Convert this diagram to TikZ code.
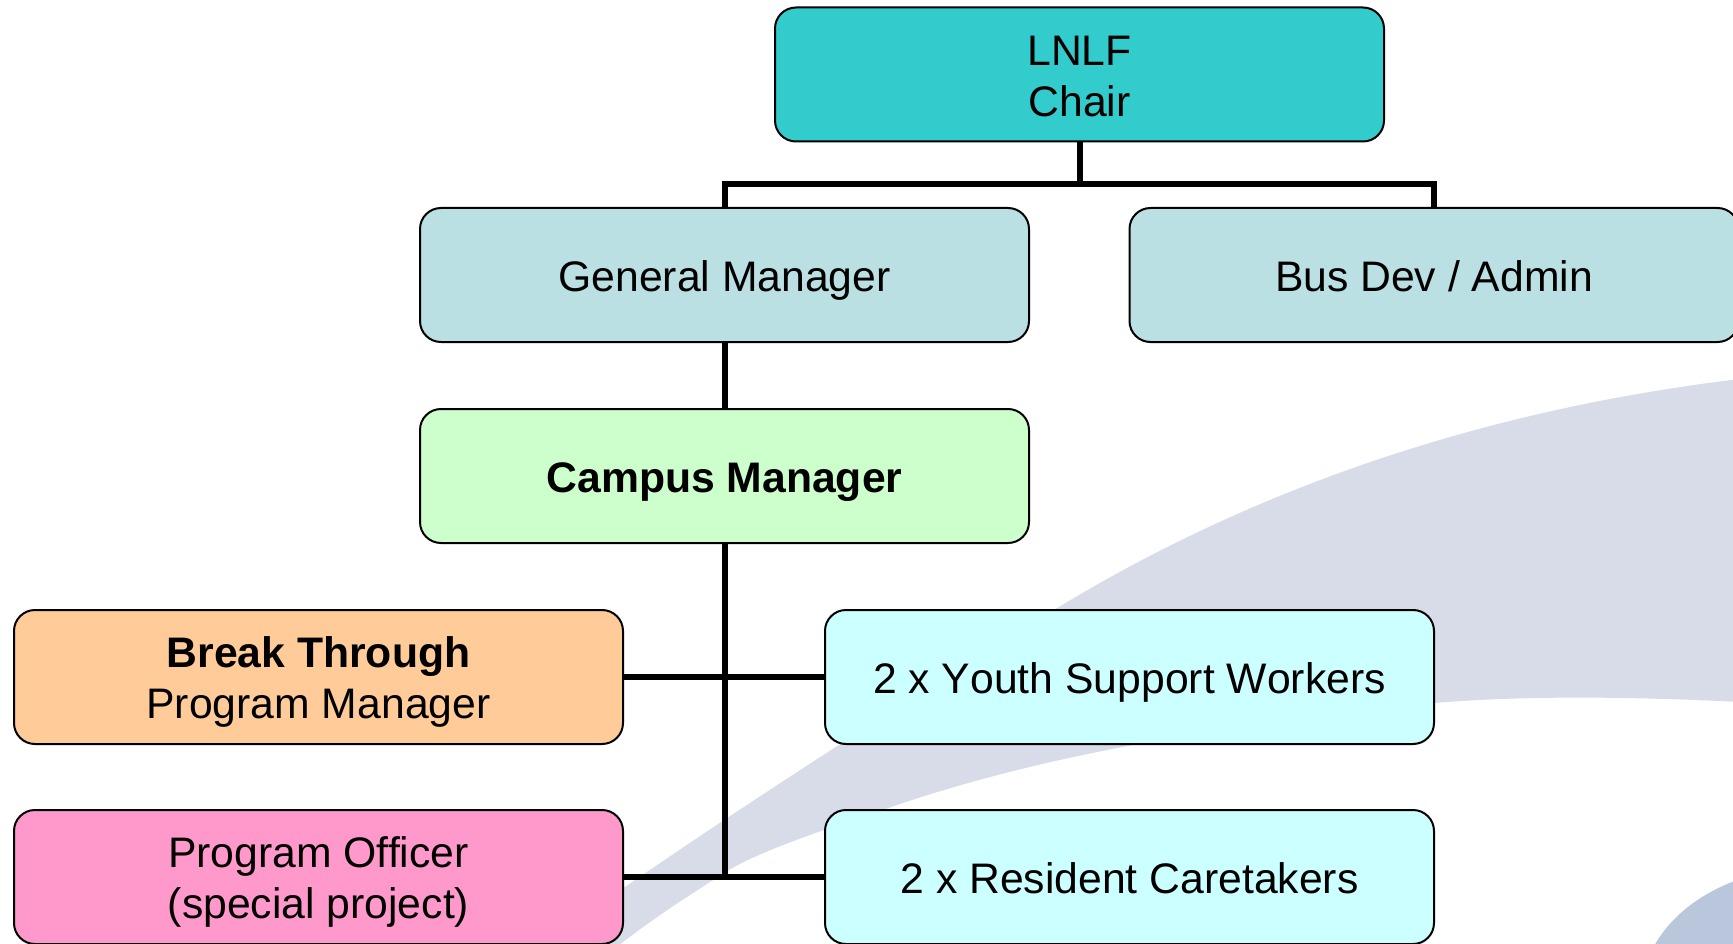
\documentclass[tikz,border=0pt]{standalone}
\usepackage{fontspec}
\setmainfont{Liberation Sans}
\definecolor{swooshA}{HTML}{D8DCE8}
\definecolor{swooshB}{HTML}{B9C6DC}
\definecolor{chairC}{HTML}{33CCCC}
\definecolor{mgrC}{HTML}{BBE0E3}
\definecolor{campusC}{HTML}{CCFFCC}
\definecolor{breakC}{HTML}{FFCC99}
\definecolor{officerC}{HTML}{FF99CC}
\definecolor{staffC}{HTML}{CCFFFF}
\newcommand{\ltop}{\rule{0pt}{44pt}}
\newcommand{\lbot}{\rule[-11.4pt]{0pt}{11.4pt}}
\begin{document}
\begin{tikzpicture}[x=1pt,y=-1pt,
  orgbox/.style={draw=black,line width=2pt,rounded corners=21pt,minimum width=609pt,minimum height=134pt,inner sep=0pt,align=center,
    font=\fontsize{42.7pt}{51pt}\selectfont,text=black},
  link/.style={draw=black,line width=6pt,line join=miter}]
\useasboundingbox (0,0) rectangle (1733,944);
\fill[white] (0,0) rectangle (1733,944);
\fill[swooshA] (1740,379) .. controls (1480,410) and (1250,490) .. (1054,610)
  .. controls (900,704) and (720,820) .. (570,925) -- (570,950) -- (613,950)
  .. controls (650,920) and (690,895) .. (724,873)
  .. controls (760,850) and (830,828) .. (900,804)
  .. controls (1060,750) and (1250,722) .. (1434,703)
  .. controls (1530,695) and (1640,697) .. (1740,702) -- cycle;
\fill[swooshB] (1652,950) .. controls (1668,918) and (1700,893) .. (1740,879) -- (1740,950) -- cycle;
\node[orgbox,fill=chairC] (chair) at (1079.5,74.5) {\ltop LNLF\\Chair\lbot};
\node[orgbox,fill=mgrC] (gm) at (724.5,275) {\ltop\lbot General Manager};
\node[orgbox,fill=mgrC] (bus) at (1434,275) {\ltop\lbot Bus Dev / Admin};
\node[orgbox,fill=campusC] (campus) at (724.5,476) {\ltop\lbot\bfseries Campus Manager};
\node[orgbox,fill=breakC] (bt) at (318.5,677) {\ltop\bfseries Break Through\\Program Manager\lbot};
\node[orgbox,fill=officerC] (po) at (318.5,877) {\ltop Program Officer\\(special project)\lbot};
\node[orgbox,fill=staffC] (ys) at (1129.5,677) {\ltop\lbot\addfontfeatures{Kerning=Off}2 x Youth Support Workers};
\node[orgbox,fill=staffC] (rc) at (1129.5,877) {\ltop\lbot 2 x Resident Caretakers};
\coordinate (bar) at (1079.5,184);
\draw[link] (gm.north) -- (gm.north |- bar) -- (bus.north |- bar) -- (bus.north);
\draw[link] (chair.south) -- (chair.south |- bar);
\draw[link] (gm.south) -- (campus.north);
\draw[link] (campus.south) -- (campus.south |- po.east);
\draw[link] (bt.east) -- (ys.west);
\draw[link] (po.east) -- (rc.west);
\end{tikzpicture}
\end{document}
